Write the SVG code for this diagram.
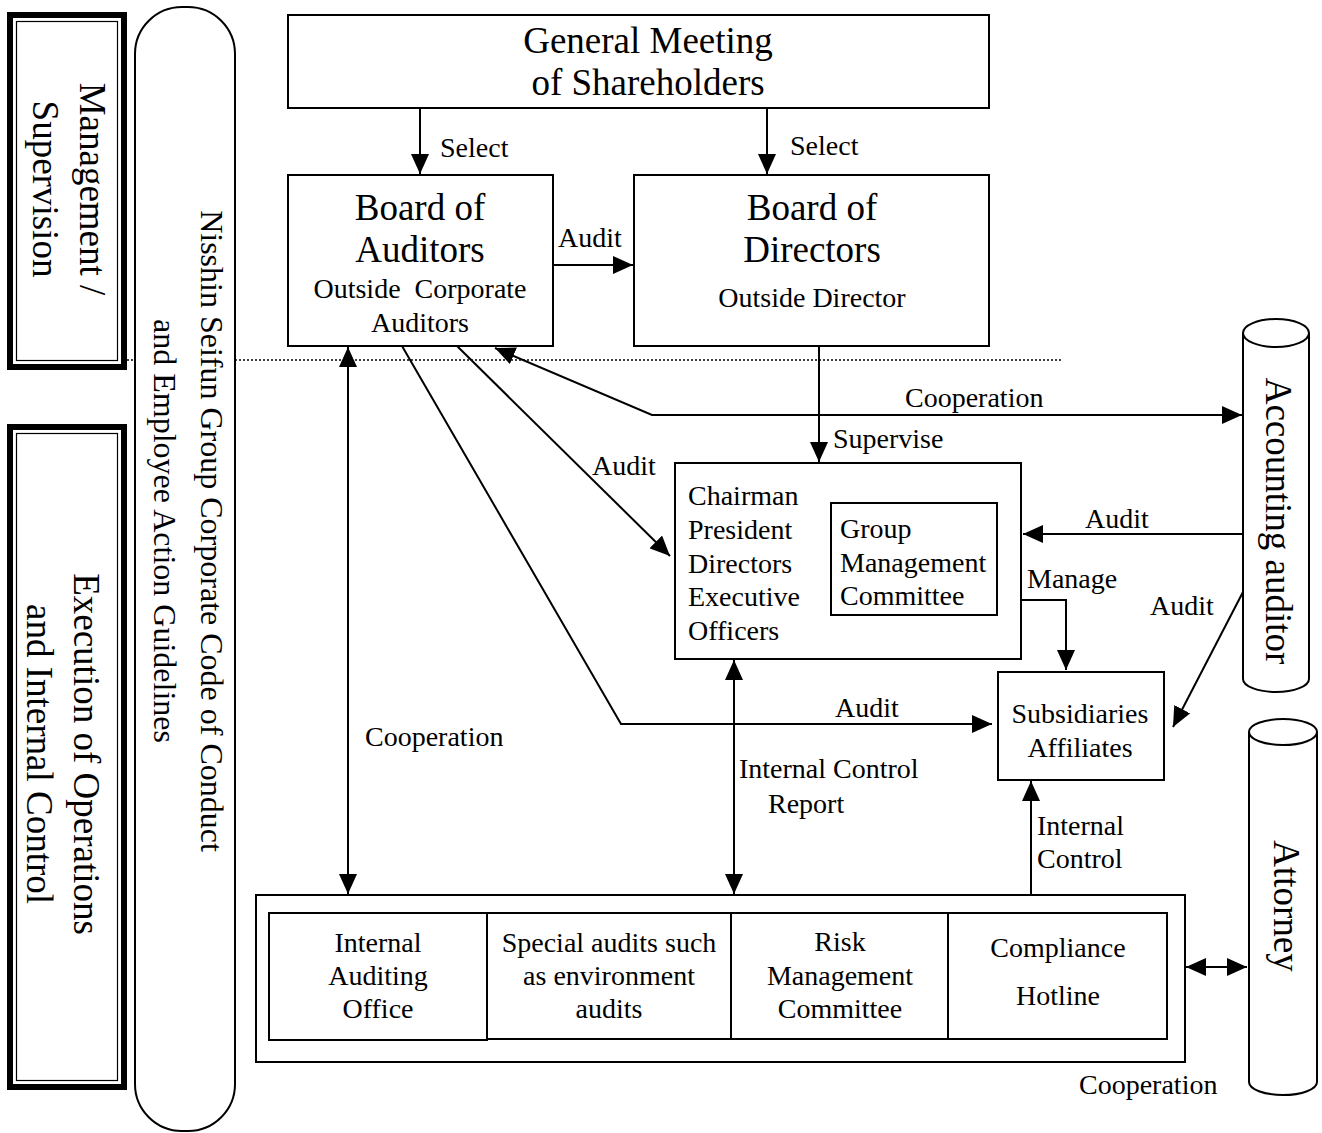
<svg xmlns="http://www.w3.org/2000/svg" width="1322" height="1133" viewBox="0 0 1322 1133">
<defs>
<marker id="ah" viewBox="0 0 20 18" refX="20" refY="9" markerWidth="20" markerHeight="18" markerUnits="userSpaceOnUse" orient="auto-start-reverse">
<path d="M0,0 L20,9 L0,18 z" fill="#000"/>
</marker>
<style>
text{font-family:"Liberation Serif","Times New Roman",serif;fill:#000}
.big{font-size:37px}
.sm{font-size:28px}
.mid{font-size:32px}
.c{text-anchor:middle}
.box{fill:#fff;stroke:#000;stroke-width:2}
.ln{fill:none;stroke:#000;stroke-width:2}
.arr{fill:none;stroke:#000;stroke-width:2;marker-end:url(#ah)}
.bi{fill:none;stroke:#000;stroke-width:2;marker-start:url(#ah);marker-end:url(#ah)}
</style>
</defs>
<rect width="1322" height="1133" fill="#fff"/>

<g id="dotted-line">
<line x1="127" y1="360" x2="1063" y2="360" stroke="#000" stroke-width="1.5" stroke-dasharray="2 2"/>
</g>

<g id="mgmt-supervision">
<rect x="10" y="15" width="114" height="352" fill="#fff" stroke="#000" stroke-width="6"/>
<rect x="16.5" y="21.5" width="101" height="339" fill="none" stroke="#000" stroke-width="1.2"/>
<text class="big c" transform="translate(80,189) rotate(90)"><tspan x="0" y="0">Management /</tspan><tspan x="0" y="47">Supervision</tspan></text>
</g>

<g id="execution-internal-control">
<rect x="10" y="427" width="114" height="660" fill="#fff" stroke="#000" stroke-width="6"/>
<rect x="16.5" y="433.5" width="101" height="647" fill="none" stroke="#000" stroke-width="1.2"/>
<text class="big c" transform="translate(74,754) rotate(90)"><tspan x="0" y="0">Execution of Operations</tspan><tspan x="0" y="47">and Internal Control</tspan></text>
</g>

<g id="code-of-conduct">
<rect x="135" y="7" width="100" height="1124" rx="47" ry="47" class="box"/>
<text class="mid c" transform="translate(201,531) rotate(90)"><tspan x="0" y="0">Nisshin Seifun Group Corporate Code of Conduct</tspan><tspan x="0" y="47">and Employee Action Guidelines</tspan></text>
</g>

<g id="general-meeting">
<rect x="288" y="15" width="701" height="93" class="box"/>
<text class="big c" x="648" y="53">General Meeting</text>
<text class="big c" x="648" y="95">of Shareholders</text>
</g>

<g id="board-of-auditors">
<rect x="288" y="175" width="265" height="171" class="box"/>
<text class="big c" x="420" y="220">Board of</text>
<text class="big c" x="420" y="262">Auditors</text>
<text class="sm c" x="420" y="298" xml:space="preserve">Outside  Corporate</text>
<text class="sm c" x="420" y="332">Auditors</text>
</g>

<g id="board-of-directors">
<rect x="634" y="175" width="355" height="171" class="box"/>
<text class="big c" x="812" y="220">Board of</text>
<text class="big c" x="812" y="262">Directors</text>
<text class="sm c" x="812" y="307">Outside Director</text>
</g>

<g id="executives">
<rect x="675" y="463" width="346" height="196" class="box"/>
<text class="sm" x="688" y="505">Chairman</text>
<text class="sm" x="688" y="539">President</text>
<text class="sm" x="688" y="573">Directors</text>
<text class="sm" x="688" y="606">Executive</text>
<text class="sm" x="688" y="640">Officers</text>
</g>

<g id="group-management-committee">
<rect x="831" y="503" width="166" height="112" class="box"/>
<text class="sm" x="840" y="538">Group</text>
<text class="sm" x="840" y="572">Management</text>
<text class="sm" x="840" y="605">Committee</text>
</g>

<g id="subsidiaries">
<rect x="998" y="672" width="166" height="108" class="box"/>
<text class="sm c" x="1080" y="723">Subsidiaries</text>
<text class="sm c" x="1080" y="757">Affiliates</text>
</g>

<g id="accounting-auditor">
<path d="M1243,333 L1243,679 A33,13 0 0 0 1309,679 L1309,333" class="box"/>
<ellipse cx="1276" cy="333" rx="33" ry="14" class="box"/>
<text class="big c" transform="translate(1266,521) rotate(90)" x="0" y="0">Accounting auditor</text>
</g>

<g id="attorney">
<path d="M1249,732 L1249,1082 A34,13 0 0 0 1317,1082 L1317,732" class="box"/>
<ellipse cx="1283" cy="732" rx="34" ry="13" class="box"/>
<text class="big c" transform="translate(1274,906) rotate(90)" x="0" y="0">Attorney</text>
</g>

<g id="internal-control-frame">
<rect x="256" y="895" width="929" height="167" class="box"/>
</g>

<g id="internal-auditing-office">
<rect x="269" y="913" width="218" height="127" class="box"/>
<text class="sm c" x="378" y="952">Internal</text>
<text class="sm c" x="378" y="985">Auditing</text>
<text class="sm c" x="378" y="1018">Office</text>
</g>

<g id="special-audits">
<rect x="487" y="913" width="244" height="126" class="box"/>
<text class="sm c" x="609" y="952">Special audits such</text>
<text class="sm c" x="609" y="985">as environment</text>
<text class="sm c" x="609" y="1018">audits</text>
</g>

<g id="risk-management">
<rect x="731" y="913" width="217" height="126" class="box"/>
<text class="sm c" x="840" y="951">Risk</text>
<text class="sm c" x="840" y="985">Management</text>
<text class="sm c" x="840" y="1018">Committee</text>
</g>

<g id="compliance-hotline">
<rect x="948" y="913" width="219" height="126" class="box"/>
<text class="sm c" x="1058" y="957">Compliance</text>
<text class="sm c" x="1058" y="1005">Hotline</text>
</g>

<g id="connectors">
<line x1="420" y1="108" x2="420" y2="174" class="arr"/>
<line x1="767" y1="108" x2="767" y2="174" class="arr"/>
<line x1="553" y1="265" x2="633" y2="265" class="arr"/>
<line x1="348" y1="347" x2="348" y2="894" class="bi"/>
<polyline points="402,346 621,724 992,724" class="arr"/>
<line x1="457" y1="346" x2="670" y2="556" class="arr"/>
<polyline points="495,348 652,415 1242,415" class="bi"/>
<line x1="819" y1="346" x2="819" y2="462" class="arr"/>
<line x1="1243" y1="534" x2="1023" y2="534" class="arr"/>
<polyline points="1021,600 1066,600 1066,670" class="arr"/>
<line x1="1243" y1="592" x2="1173" y2="727" class="arr"/>
<line x1="734" y1="660" x2="734" y2="894" class="bi"/>
<line x1="1031" y1="895" x2="1031" y2="781" class="arr"/>
<line x1="1186" y1="967" x2="1247" y2="967" class="bi"/>
</g>

<g id="labels">
<text class="sm" x="440" y="157">Select</text>
<text class="sm" x="790" y="155">Select</text>
<text class="sm" x="558" y="247">Audit</text>
<text class="sm" x="905" y="407">Cooperation</text>
<text class="sm" x="833" y="448">Supervise</text>
<text class="sm" x="592" y="475">Audit</text>
<text class="sm" x="1085" y="528">Audit</text>
<text class="sm" x="1027" y="588">Manage</text>
<text class="sm" x="1150" y="615">Audit</text>
<text class="sm" x="835" y="717">Audit</text>
<text class="sm" x="365" y="746">Cooperation</text>
<text class="sm" x="739" y="778">Internal Control</text>
<text class="sm" x="768" y="813">Report</text>
<text class="sm" x="1037" y="835">Internal</text>
<text class="sm" x="1037" y="868">Control</text>
<text class="sm" x="1079" y="1094">Cooperation</text>
</g>
</svg>
